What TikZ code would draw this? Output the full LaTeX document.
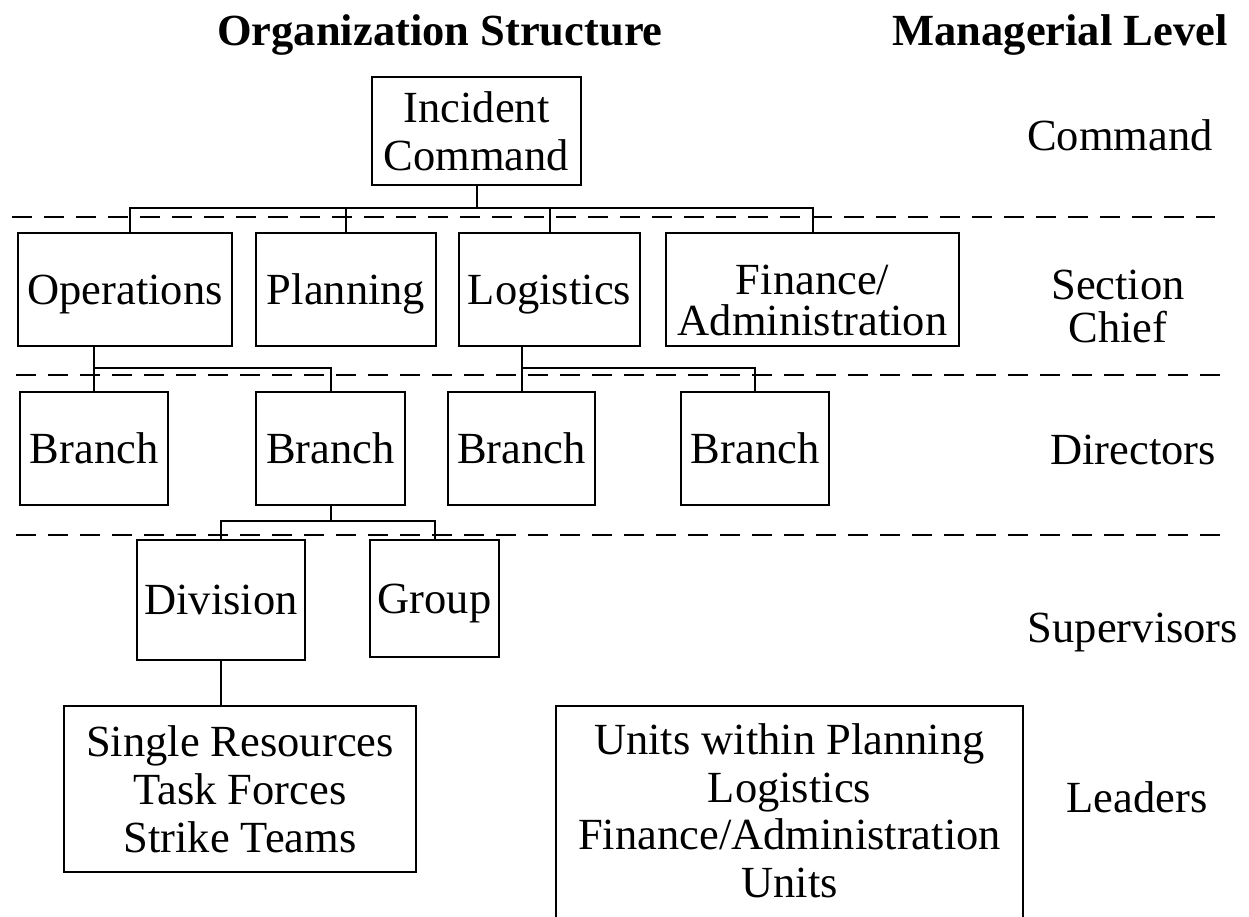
\documentclass[tikz,border=0pt]{standalone}
\usepackage{fontspec}
\setmainfont{Liberation Serif}
\begin{document}
\begin{tikzpicture}[x=1pt,y=-1pt,
  every node/.style={font=\fontsize{44.5}{48}\selectfont},
  box/.style={draw,line width=2pt,inner sep=0pt,align=center,text depth=0pt},
  conn/.style={line width=2pt},
  sepline/.style={line width=2pt,dash pattern=on 20pt off 12pt},
  lab/.style={align=center,inner sep=0pt},
  ttl/.style={inner sep=0pt,font=\fontsize{44.5}{48}\selectfont\bfseries}]
\useasboundingbox[fill=white] (0,0) rectangle (1249,916);

% titles
\node[ttl] (t1) at (440,35) {Organization Structure};
\node[ttl] (t2) at (1060,35) {Managerial Level};

% level labels
\node[lab] (l1) at (1120,135) {Command};
\node[lab,font=\fontsize{44.5}{43}\selectfont] (l2) at (1118,306) {Section\\Chief};
\node[lab] (l3) at (1133,450) {Directors};
\node[lab,text depth=0pt] (l4) at (1133,628) {Supervisors};
\node[lab] (l5) at (1137,797) {Leaders};

% separators
\draw[sepline] (12,217) -- (1215,217);
\draw[sepline] (16,375) -- (1220,375);
\draw[sepline] (16,535) -- (1220,535);

% boxes
\node[box,minimum width=209pt,minimum height=108pt] (ic) at (476.5,131) {Incident\\Command};
\node[box,minimum width=214pt,minimum height=113pt] (ops) at (125,289.5) {Operations};
\node[box,minimum width=180pt,minimum height=113pt] (pln) at (346,289.5) {Planning};
\node[box,minimum width=181pt,minimum height=113pt] (log) at (549.5,289.5) {Logistics};
\node[box,minimum width=293pt,minimum height=113pt] (fin) at (812.5,289.5) {};
\node[lab,font=\fontsize{44.5}{41}\selectfont] (fintext) at (812.5,300) {Finance/\\Administration};

\node[box,minimum width=148pt,minimum height=113pt] (br1) at (94,448.5) {Branch};
\node[box,minimum width=149pt,minimum height=113pt] (br2) at (330.5,448.5) {Branch};
\node[box,minimum width=147pt,minimum height=113pt] (br3) at (521.5,448.5) {Branch};
\node[box,minimum width=148pt,minimum height=113pt] (br4) at (755,448.5) {Branch};

\node[box,minimum width=168pt,minimum height=120pt] (div) at (221,600) {Division};
\node[box,minimum width=129pt,minimum height=117pt] (grp) at (434.5,598.5) {Group};

\node[box,minimum width=352pt,minimum height=166pt] (sr) at (240,789) {Single Resources\\Task Forces\\Strike Teams};

\node[lab,font=\fontsize{44.5}{47.5}\selectfont] (units) at (789.5,811) {Units within Planning\\Logistics\\Finance/Administration\\Units};
\draw[conn] (556,920) -- (556,706) -- (1023,706) -- (1023,920);

% bus coordinates
\coordinate (b1) at (0,208);
\coordinate (b2) at (0,368);
\coordinate (b3) at (0,521);

% connectors
\draw[conn] (ic.south) -- (ic.south |- b1);
\draw[conn] ([xshift=5pt]ops.north) |- (b1 -| fin.north) -- (fin.north);
\draw[conn] (pln.north) -- (pln.north |- b1);
\draw[conn] (log.north) -- (log.north |- b1);

\draw[conn] (br1.north |- ops.south) |- (b2 -| br2.north) -- (br2.north);
\draw[conn] (br1.north) -- (br1.north |- b2);
\draw[conn] (br3.north |- log.south) |- (b2 -| br4.north) -- (br4.north);
\draw[conn] (br3.north) -- (br3.north |- b2);

\draw[conn] (br2.south) -- (br2.south |- b3);
\draw[conn] (div.north) |- (b3 -| grp.north) -- (grp.north);

\draw[conn] (div.south) -- (div.south |- sr.north);
\end{tikzpicture}
\end{document}
